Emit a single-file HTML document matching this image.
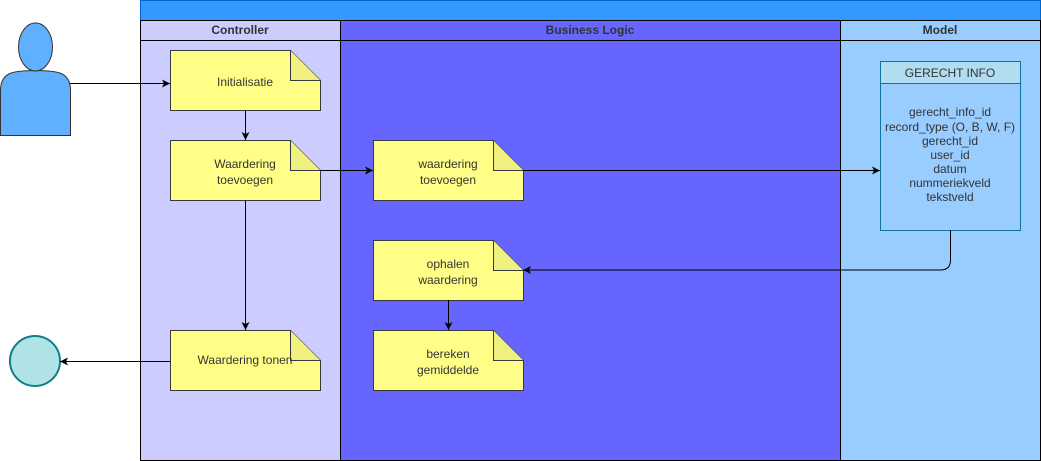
<!DOCTYPE html>
<html><head><meta charset="utf-8"><style>body{margin:0;background:#fff}svg{display:block}text{font-family:"Liberation Sans",Arial,sans-serif;font-size:12px;fill:#333}</style></head><body>
<svg width="1041" height="461" viewBox="0 0 1041 461">
<defs><marker id="a" markerWidth="10" markerHeight="10" refX="8" refY="4" orient="auto" markerUnits="userSpaceOnUse"><path d="M0,0 L8,4 L0,8 L2,4Z" fill="#000"/></marker></defs>
<rect x="140.5" y="0.5" width="900" height="20" fill="#3399ff" stroke="#0066cc"/>
<rect x="140.5" y="20.5" width="200" height="440" fill="#ccccff" stroke="#000"/>
<rect x="340.5" y="20.5" width="500" height="440" fill="#6666ff" stroke="#000"/>
<rect x="840.5" y="20.5" width="200" height="440" fill="#99ccff" stroke="#000"/>
<line x1="140" y1="40.5" x2="1041" y2="40.5" stroke="#000"/>
<text x="240" y="34" text-anchor="middle" font-weight="bold">Controller</text>
<text x="590" y="34" text-anchor="middle" font-weight="bold">Business Logic</text>
<text x="940" y="34" text-anchor="middle" font-weight="bold">Model</text>
<g stroke="#36393d" fill="#ffff88">
<path d="M170.5,50.5h120l30,30v30h-150z"/><path d="M290.5,50.5v30h30" fill="#f0f080"/>
<path d="M170.5,140.5h120l30,30v30h-150z"/><path d="M290.5,140.5v30h30" fill="#f0f080"/>
<path d="M170.5,330.5h120l30,30v30h-150z"/><path d="M290.5,330.5v30h30" fill="#f0f080"/>
<path d="M373.5,140.5h120l30,30v30h-150z"/><path d="M493.5,140.5v30h30" fill="#f0f080"/>
<path d="M373.5,240.5h120l30,30v30h-150z"/><path d="M493.5,240.5v30h30" fill="#f0f080"/>
<path d="M373.5,330.5h120l30,30v30h-150z"/><path d="M493.5,330.5v30h30" fill="#f0f080"/>
</g>
<text x="245" y="86" text-anchor="middle">Initialisatie</text>
<text x="245" y="168" text-anchor="middle">Waardering</text><text x="245" y="184" text-anchor="middle">toevoegen</text>
<text x="245" y="364" text-anchor="middle">Waardering tonen</text>
<text x="448" y="168" text-anchor="middle">waardering</text><text x="448" y="184" text-anchor="middle">toevoegen</text>
<text x="448" y="268" text-anchor="middle">ophalen</text><text x="448" y="284" text-anchor="middle">waardering</text>
<text x="448" y="358" text-anchor="middle">bereken</text><text x="448" y="374" text-anchor="middle">gemiddelde</text>
<rect x="880.5" y="61.5" width="140" height="169" fill="#99ccff" stroke="#10739e"/>
<rect x="880.5" y="61.5" width="140" height="22" fill="#b1ddf0" stroke="#10739e"/>
<text x="950" y="77" text-anchor="middle">GERECHT INFO</text>
<g text-anchor="middle"><text x="950" y="116">gerecht_info_id</text><text x="950" y="131">record_type (O, B, W, F)</text><text x="950" y="145">gerecht_id</text><text x="950" y="159">user_id</text><text x="950" y="173">datum</text><text x="950" y="187">nummeriekveld</text><text x="950" y="201">tekstveld</text></g>
<g fill="#60b0ff" stroke="#333"><path d="M0.5,135.5v-45c0-18 12-20 35-20s35 2 35 20v45z"/><ellipse cx="35.5" cy="47" rx="17" ry="24"/></g>
<circle cx="35" cy="361" r="25" fill="#b0e3e6" stroke="#0e8088" stroke-width="2"/>
<g stroke="#000" fill="none" marker-end="url(#a)">
<path d="M70,83.5H170"/><path d="M245.5,110V140"/><path d="M320,170.5H373"/><path d="M523,170.5H880"/>
<path d="M245.5,200V330"/><path d="M448.5,300V330"/><path d="M170,361.5H60"/>
<path d="M950.5,230V260q0,10-10,10H523"/>
</g>
</svg></body></html>
